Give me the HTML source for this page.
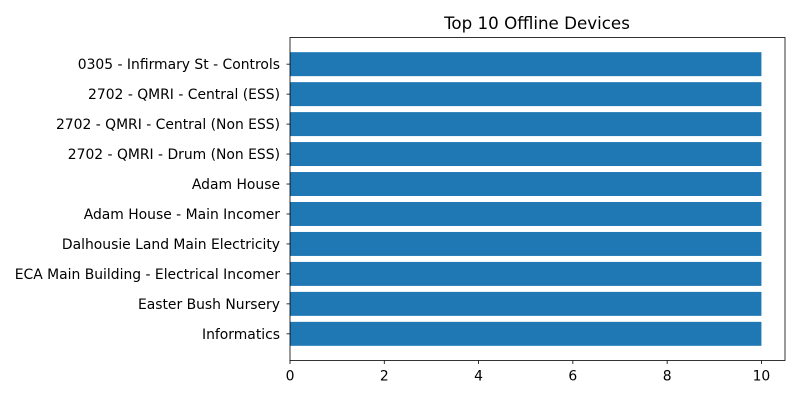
<!DOCTYPE html>
<html><head><meta charset="utf-8"><style>
body{margin:0;background:#fff;}
svg text{font-family:"DejaVu Sans","Liberation Sans",sans-serif;font-size:13.9px;fill:#000;}
</style></head><body>
<svg id="chart" width="800" height="400" xmlns="http://www.w3.org/2000/svg">
<text x="537" y="29" text-anchor="middle" style="font-size:16.7px">Top 10 Offline Devices</text>
<g id="bars"></g><g id="axes"></g>
</svg>
<script>
const categories=["0305 - Infirmary St - Controls","2702 - QMRI - Central (ESS)","2702 - QMRI - Central (Non ESS)","2702 - QMRI - Drum (Non ESS)","Adam House","Adam House - Main Incomer","Dalhousie Land Main Electricity","ECA Main Building - Electrical Incomer","Easter Bush Nursery","Informatics"];
const values=[10,10,10,10,10,10,10,10,10,10];
const xTicks=[0,2,4,6,8,10];
const L=290,R=785,T=37.5,B=360.5;
const xmax=Math.max(...values)*1.05;
const x=v=>L+v/xmax*(R-L);
const n=categories.length;
const yspan=(n-1+0.8)*1.1;
const y=i=>T+(i+0.4+0.05*(n-1+0.8))/yspan*(B-T);
const bh=0.8/yspan*(B-T);
const NS="http://www.w3.org/2000/svg";
const bars=document.getElementById('bars'),axes=document.getElementById('axes');
function mk(tag,attrs,parent){const e=document.createElementNS(NS,tag);for(const k in attrs)e.setAttribute(k,attrs[k]);parent.appendChild(e);return e;}
categories.forEach((c,i)=>{
 const r=mk('rect',{x:x(0),y:y(i)-bh/2,width:x(values[i])-x(0),height:bh,fill:'#1f77b4'},bars);
 
 
 mk('line',{x1:L-3.5,x2:L,y1:y(i),y2:y(i),stroke:'#000','stroke-width':0.8},axes);
 const t=mk('text',{x:L-10,y:y(i)+5,'text-anchor':'end'},axes);
 t.textContent=c;
 
 
});
xTicks.forEach(v=>{
 mk('line',{x1:x(v),x2:x(v),y1:B,y2:B+3.5,stroke:'#000','stroke-width':0.8},axes);
 const t=mk('text',{x:x(v),y:B+20,'text-anchor':'middle'},axes);
 t.textContent=v;
 
 
});
const f=mk('rect',{x:L,y:T,width:R-L,height:B-T,fill:'none',stroke:'#000','stroke-width':0.8},axes);


</script>
</body></html>
